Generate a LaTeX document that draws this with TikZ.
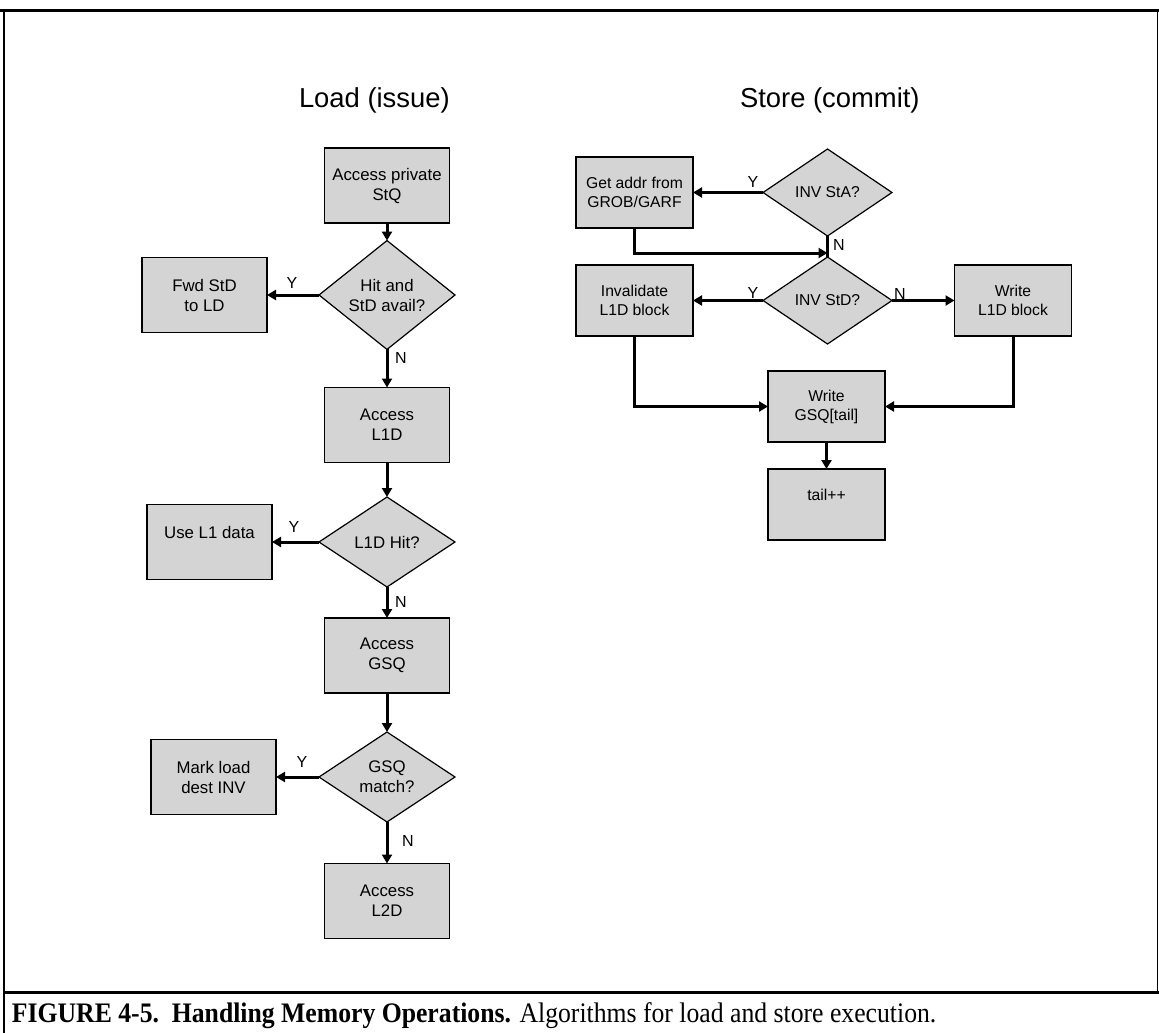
\documentclass[tikz,border=0pt]{standalone}
\usepackage{fontspec}
\setmainfont{Liberation Sans}
\newfontfamily\capfont{Liberation Serif}
\usetikzlibrary{shapes.geometric,arrows.meta}

\definecolor{boxgray}{RGB}{212,212,212}

\tikzset{
  every node/.style={inner sep=0pt, outer sep=0pt},
  ldfont/.style={font=\fontsize{16.8}{20}\selectfont},
  stfont/.style={font=\fontsize{15.7}{19}\selectfont},
  procbox/.style={draw=black, line width=1.4pt, fill=boxgray, align=center},
  ldbox/.style={procbox, ldfont, minimum width=125pt, minimum height=75pt},
  stbox/.style={procbox, stfont, minimum width=117pt, minimum height=71pt},
  decide/.style={diamond, draw=black, line width=1.2pt, fill=boxgray, align=center, inner sep=0pt},
  lddecide/.style={decide, ldfont, minimum width=136pt, minimum height=90pt},
  stdecide/.style={decide, stfont, minimum width=129pt, minimum height=87pt},
  flow/.style={line width=3pt, -{Triangle[length=9pt,width=10pt]}},
  plain/.style={line width=3pt},
  yn/.style={font=\fontsize{16}{19}\selectfont},
  heading/.style={font=\fontsize{27.4}{32}\selectfont, anchor=base west},
  rule/.style={line width=3pt},
  thinrule/.style={line width=1.5pt}
}

\begin{document}
\begin{tikzpicture}[x=1pt, y=-1pt]
\useasboundingbox (0,0) rectangle (1159,1033);

% frame
\draw[rule] (0,11) -- (1159,11);
\draw[thinrule] (4,11) -- (4,1033);
\draw[thinrule] (1157.5,11) -- (1157.5,992);
\draw[rule] (4,992) -- (1159,992);

% headings
\node[heading] (hload) at (299,107) {Load (issue)};
\node[heading] (hstore) at (740,107) {Store (commit)};

% ---- load path ----
\node[ldbox] (lsq)  at (387,185.5) {Access private\\StQ};
\node[lddecide] (d1) at (387,295) {Hit and\\StD avail?};
\node[ldbox] (fwd)  at (204.5,295) {Fwd StD\\to LD};
\node[ldbox] (l1d)  at (387,425) {Access\\L1D};
\node[lddecide] (d2) at (387,542) {L1D Hit?};
\node[ldbox] (use)  at (209.5,542) {Use L1 data\\~};
\node[ldbox] (gsq)  at (387,655.5) {Access\\GSQ};
\node[lddecide] (d3) at (387,777) {GSQ\\match?};
\node[ldbox] (mark) at (213.5,777) {Mark load\\dest INV};
\node[ldbox] (l2d)  at (387,901) {Access\\L2D};

\draw[flow] (lsq.south) -- (d1.north);
\draw[flow] (d1.west) -- (fwd.east);
\draw[flow] (d1.south) -- (l1d.north);
\draw[flow] (l1d.south) -- (d2.north);
\draw[flow] (d2.west) -- (use.east);
\draw[flow] (d2.south) -- (gsq.north);
\draw[flow] (gsq.south) -- (d3.north);
\draw[flow] (d3.west) -- (mark.east);
\draw[flow] (d3.south) -- (l2d.north);

\node[yn] (y1) at (292,283) {Y};
\node[yn] (n1) at (401,358) {N};
\node[yn] (y2) at (294,527) {Y};
\node[yn] (n2) at (401,602) {N};
\node[yn] (y3) at (302,762) {Y};
\node[yn] (n3) at (408,841) {N};

% ---- store path ----
\node[stdecide] (sta) at (827.5,192.5) {INV StA?};
\node[stbox] (addr) at (634.5,192.5) {Get addr from\\GROB/GARF};
\node[stdecide] (std) at (827.5,300.5) {INV StD?};
\node[stbox] (inval) at (634.5,300.5) {Invalidate\\L1D block};
\node[stbox] (wl1d) at (1013,300.5) {Write\\L1D block};
\node[stbox] (wgsq) at (826.5,406.5) {Write\\GSQ[tail]};
\node[stbox] (tail) at (826.5,504.5) {tail++\\~};
\coordinate (join) at (827.5,253);

\draw[flow] (sta.west) -- (addr.east);
\draw[plain] (sta.south) -- (std.north);
\draw[flow] (addr.south) |- (join);
\draw[flow] (std.west) -- (inval.east);
\draw[flow] (std.east) -- (wl1d.west);
\draw[flow] (inval.south) |- (wgsq.west);
\draw[flow] (wl1d.south) |- (wgsq.east);
\draw[flow] (wgsq.south) -- (tail.north);

\node[yn] (y4) at (753,182) {Y};
\node[yn] (n4) at (839,245) {N};
\node[yn] (y5) at (753,293) {Y};
\node[yn] (n5) at (900,294) {N};

% caption
\node[anchor=base west, font=\capfont\fontsize{25.7}{30}\selectfont] (cap) at (12,1022)
  {\scalebox{1}[1.1]{\textbf{FIGURE 4-5.\ \ Handling Memory Operations.} Algorithms for load and store execution.}};
\end{tikzpicture}
\end{document}
